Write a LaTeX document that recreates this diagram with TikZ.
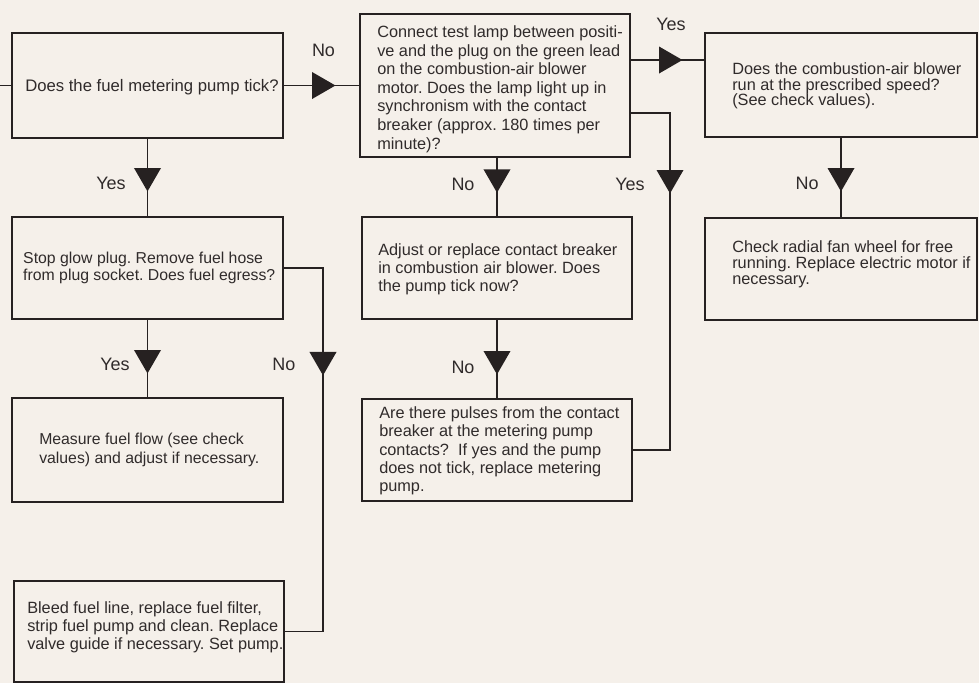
\documentclass[tikz,border=0pt]{standalone}
\usepackage{fontspec}
\setmainfont{Liberation Sans}
\usetikzlibrary{shapes.geometric}
\definecolor{paper}{RGB}{245,240,234}
\definecolor{ink}{RGB}{38,33,33}
\definecolor{print}{RGB}{48,43,43}
\begin{document}
\frenchspacing
\begin{tikzpicture}[x=1pt,y=-1pt,
  flowbox/.style={draw=ink, line width=1.9pt, rectangle, inner sep=0pt},
  boxtext/.style={anchor=west, align=left, inner sep=0pt, text=print,
    font=\fontsize{16.3}{#1}\selectfont},
  boxtext/.default=18,
  conn/.style={draw=ink, line width=1.9pt},
  tri/.style={regular polygon, regular polygon sides=3, fill=ink, draw=none,
    minimum size=31.2pt, inner sep=0pt, outer sep=0pt},
  tridown/.style={tri, shape border rotate=180},
  triright/.style={tri, shape border rotate=-90},
  lbl/.style={font=\fontsize{18}{21}\selectfont, text=print, inner sep=0pt}
]
\fill[paper] (0,0) rectangle (979,683);
\useasboundingbox (0,0) rectangle (979,683);

% boxes
\node[flowbox, minimum width=271pt, minimum height=105pt] (boxA) at (147.5,85.5) {};
\node[flowbox, minimum width=270pt, minimum height=143pt] (boxB) at (495,85.5) {};
\node[flowbox, minimum width=272pt, minimum height=104pt] (boxC) at (841,85) {};
\node[flowbox, minimum width=272pt, minimum height=102pt] (boxD) at (841,269) {};
\node[flowbox, minimum width=271pt, minimum height=102pt] (boxG) at (147.5,268) {};
\node[flowbox, minimum width=270pt, minimum height=102pt] (boxE) at (497,268) {};
\node[flowbox, minimum width=270pt, minimum height=102pt] (boxF) at (497,450) {};
\node[flowbox, minimum width=271pt, minimum height=104pt] (boxI) at (147.5,450) {};
\node[flowbox, minimum width=270pt, minimum height=101pt] (boxH) at (149,631.5) {};

% box texts
\node[boxtext=18, font=\fontsize{16.7}{18}\selectfont] (txtA) at ([xshift=14pt,yshift=-1.5pt]boxA.west)
  {Does the fuel metering pump tick?};
\node[boxtext=18.6] (txtB) at ([xshift=18pt,yshift=-3.5pt]boxB.west)
  {Connect test lamp between positi-\\ve and the plug on the green lead\\on the combustion-air blower\\motor. Does the lamp light up in\\synchronism with the contact\\breaker (approx. 180 times per\\minute)?};
\node[boxtext=15.4] (txtC) at ([xshift=28pt,yshift=-1pt]boxC.west)
  {Does the combustion-air blower\\run at the prescribed speed?\\(See check values).};
\node[boxtext=16] (txtD) at ([xshift=28pt,yshift=5pt]boxD.west)
  {Check radial fan wheel for free\\running. Replace electric motor if\\necessary.};
\node[boxtext=17, font=\fontsize{15.8}{17}\selectfont] (txtG) at ([xshift=12pt]boxG.west)
  {Stop glow plug. Remove fuel hose\\from plug socket. Does fuel egress?};
\node[boxtext=18] (txtE) at ([xshift=17pt,yshift=-1pt]boxE.west)
  {Adjust or replace contact breaker\\in combustion air blower. Does\\the pump tick now?};
\node[boxtext=18.3] (txtF) at ([xshift=18pt,yshift=-1pt]boxF.west)
  {Are there pulses from the contact\\breaker at the metering pump\\contacts?\ \ If yes and the pump\\does not tick, replace metering\\pump.};
\node[boxtext=19.3, font=\fontsize{15.8}{19.3}\selectfont] (txtI) at ([xshift=28pt]boxI.west)
  {Measure fuel flow (see check\\values) and adjust if necessary.};
\node[boxtext=17.8] (txtH) at ([xshift=14pt,yshift=4pt]boxH.west)
  {Bleed fuel line, replace fuel filter,\\strip fuel pump and clean. Replace\\valve guide if necessary. Set pump.};

% connectors
\coordinate (entry) at (0,85.5);
\draw[conn] (entry) -- (boxA.west);
\draw[conn] (boxA.east) -- node[triright, pos=0.478] (tAB) {} (boxB.west);
\draw[conn] ([yshift=25.5pt]boxB.east) -- node[triright, pos=0.491] (tBC) {}
  ([yshift=25.5pt]boxB.east -| boxC.west);
\draw[conn] (boxC.south) -- node[tridown, pos=0.479] (tCD) {} (boxD.north);
\draw[conn] (boxB.south -| boxE.north) -- node[tridown, pos=0.33] (tBE) {} (boxE.north);
\draw[conn] (boxE.south) -- node[tridown, pos=0.4975] (tEF) {} (boxF.north);
\coordinate (bfturn) at (670,113);
\draw[conn] (boxB.east |- bfturn) -- (bfturn)
  -- node[tridown, pos=0.1923] (tBF) {} (bfturn |- boxF.east) -- (boxF.east);
\draw[conn] (boxA.south) -- node[tridown, pos=0.478] (tAG) {} (boxG.north);
\draw[conn] (boxG.south) -- node[tridown, pos=0.491] (tGI) {} (boxI.north);
\coordinate (ghturn) at (323,268);
\draw[conn] (boxG.east) -- (ghturn)
  -- node[tridown, pos=0.2525] (tGH) {} (ghturn |- boxH.east) -- (boxH.east);

% branch labels
\node[lbl] (lAB) at (323.5,50) {No};
\node[lbl] (lBC) at (671,24) {Yes};
\node[lbl] (lAG) at (111,183) {Yes};
\node[lbl] (lBE) at (463,184) {No};
\node[lbl] (lBF) at (630,184) {Yes};
\node[lbl] (lCD) at (807,183) {No};
\node[lbl] (lGI) at (115,364) {Yes};
\node[lbl] (lGH) at (284,364) {No};
\node[lbl] (lEF) at (463,367) {No};
\end{tikzpicture}
\end{document}
